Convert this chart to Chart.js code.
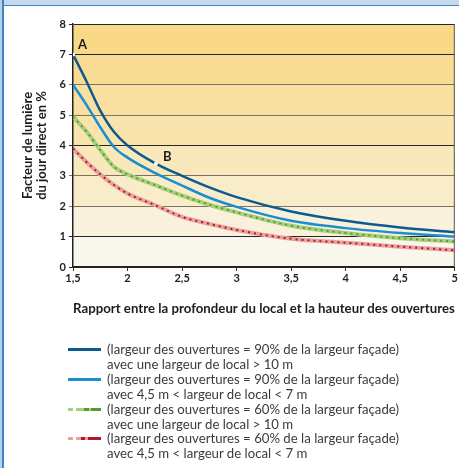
<!DOCTYPE html>
<html lang="fr">
<head>
<meta charset="utf-8">
<script src="https://cdn.jsdelivr.net/npm/chart.js@4.4.1/dist/chart.umd.min.js"></script>
<style>
  html, body { margin: 0; padding: 0; background: #fff; }
  body { width: 459px; height: 468px; position: relative; overflow: hidden; font-family: "Lato", sans-serif; }
  .frame-top { position: absolute; left: 0; top: 0; width: 459px; height: 5px; background: #c3daee; border-bottom: 1px solid #3f85c1; }
  .frame-left { position: absolute; left: 0; top: 0; width: 2px; height: 468px; background: #b5d1ea; border-right: 2px solid #3f85c1; }
  #wrap { position: absolute; left: 0; top: 0; width: 459px; height: 325px; }
  .legend { position: absolute; left: 0; top: 342px; width: 459px; color: #3b3b3b; font-size: 13.2px; line-height: 14.9px; }
  .item { position: relative; padding-left: 107px; white-space: nowrap; }
  .swatch { position: absolute; left: 68px; top: 6px; width: 33px; height: 3px; }
</style>
</head>
<body>
<div id="wrap"><canvas id="myChart" width="459" height="325"></canvas></div>
<div class="frame-top"></div>
<div class="frame-left"></div>
<div class="legend" id="legend"></div>

<script>
// rapport profondeur / hauteur des ouvertures
const xValues = [1.5, 1.625, 1.75, 1.875, 2, 2.25, 2.5, 2.75, 3, 3.5, 4, 4.5, 5];
const xTicks = [1.5, 2, 2.5, 3, 3.5, 4, 4.5, 5];
const xTickLabels = ["1,5", "2", "2,5", "3", "3,5", "4", "4,5", "5"];

// facteur de lumière du jour direct (%)
const dark90 = [7.0, 6.1, 5.15, 4.45, 4.0, 3.42, 3.0, 2.62, 2.3, 1.83, 1.52, 1.3, 1.15];
const light90 = [6.0, 5.33, 4.6, 3.95, 3.6, 3.1, 2.68, 2.28, 1.98, 1.52, 1.28, 1.12, 1.0];
const green60 = [4.95, 4.45, 3.85, 3.3, 3.05, 2.7, 2.35, 2.05, 1.8, 1.36, 1.12, 0.95, 0.84];
const red60 = [3.9, 3.45, 3.05, 2.7, 2.42, 2.04, 1.65, 1.42, 1.22, 0.93, 0.8, 0.67, 0.55];

const markerLabels = ["A", "B"];
const markerX = [1.5, 2.26];
const markerY = [7.0, 3.4];

const legendLabels = [
  ["(largeur des ouvertures = 90% de la largeur façade)", "avec une largeur de local > 10 m"],
  ["(largeur des ouvertures = 90% de la largeur façade)", "avec 4,5 m < largeur de local < 7 m"],
  ["(largeur des ouvertures = 60% de la largeur façade)", "avec une largeur de local > 10 m"],
  ["(largeur des ouvertures = 60% de la largeur façade)", "avec 4,5 m < largeur de local < 7 m"],
];

// styles
const bandColors = ["#f9f6ee", "#f9f1dc", "#f9edc9", "#f9e9ba", "#f9e4ad", "#f9e0a0", "#f9dc94", "#f9d887"];
const darkBlue = "#0d5b8e";
const midBlue = "#1a8ed0";
const greenLight = "#a8cf7c";
const greenDark = "#5a9a33";
const redLight = "#e6a29b";
const redDark = "#b2172c";

const toPoints = (ys) => ys.map((y, i) => ({ x: xValues[i], y }));

const swatches = [
  darkBlue,
  midBlue,
  `linear-gradient(to right, ${greenLight} 0 5px, transparent 5px 8px, ${greenLight} 8px 16px, ${greenDark} 16px 21px, ${greenLight} 21px 23px, ${greenDark} 23px 33px)`,
  `linear-gradient(to right, ${redLight} 0 5px, transparent 5px 8px, ${redLight} 8px 13px, ${redDark} 13px 17px, ${redLight} 17px 20px, ${redDark} 20px 33px)`,
];

const legendEl = document.getElementById("legend");
legendLabels.forEach((lines, i) => {
  const item = document.createElement("div");
  item.className = "item";
  item.innerHTML = `<span class="swatch" style="background:${swatches[i]}"></span>${lines[0]}<br>${lines[1]}`;
  legendEl.appendChild(item);
});

// bandes de fond + bord droit + lettres
const bandsPlugin = {
  id: "bands",
  beforeDraw(chart) {
    const { ctx, chartArea, scales } = chart;
    const y = scales.y;
    ctx.save();
    for (let i = 0; i < 8; i++) {
      const top = y.getPixelForValue(i + 1);
      const bottom = y.getPixelForValue(i);
      ctx.fillStyle = bandColors[i];
      ctx.fillRect(chartArea.left, top, chartArea.right - chartArea.left, bottom - top);
    }
    ctx.restore();
  },
  afterDatasetsDraw(chart) {
    const { ctx, chartArea } = chart;
    ctx.save();
    ctx.strokeStyle = "#5d5850";
    ctx.lineWidth = 1;
    ctx.beginPath();
    ctx.moveTo(chartArea.right - 0.5, chartArea.top);
    ctx.lineTo(chartArea.right - 0.5, chartArea.bottom);
    ctx.stroke();

    const meta = chart.getDatasetMeta(0);
    ctx.fillStyle = "#1c1c1c";
    ctx.font = "bold 13px Lato";
    ctx.textBaseline = "middle";
    meta.data.forEach((pt, i) => {
      const dx = i === 0 ? 5 : 7;
      const dy = i === 0 ? -10 : -7;
      ctx.fillText(markerLabels[i], pt.x + dx, pt.y + dy);
    });
    ctx.restore();
  },
};

const ctx = document.getElementById("myChart");

// chart.js dessine le premier dataset au-dessus
new Chart(ctx, {
  type: "line",
  data: {
    datasets: [
      {
        type: "scatter",
        data: markerX.map((x, i) => ({ x, y: markerY[i] })),
        pointRadius: 2,
        pointBackgroundColor: "#ffffff",
        pointBorderWidth: 0,
      },
      { data: toPoints(dark90), borderColor: darkBlue, borderWidth: 2.5 },
      { data: toPoints(light90), borderColor: midBlue, borderWidth: 2.5 },
      { data: toPoints(green60), borderColor: greenDark, borderWidth: 2, borderDash: [2, 4] },
      { data: toPoints(green60), borderColor: greenLight, borderWidth: 4 },
      { data: toPoints(red60), borderColor: redDark, borderWidth: 2, borderDash: [2, 4] },
      { data: toPoints(red60), borderColor: redLight, borderWidth: 4 },
    ],
  },
  options: {
    responsive: false,
    animation: false,
    events: [],
    layout: { padding: { top: 24, right: 3, left: 0, bottom: 0 } },
    elements: {
      line: { cubicInterpolationMode: "monotone", fill: false },
      point: { radius: 0 },
    },
    plugins: { legend: { display: false }, tooltip: { enabled: false } },
    scales: {
      x: {
        type: "linear",
        min: 1.5,
        max: 5,
        afterBuildTicks: (scale) => {
          scale.ticks = xTicks.map((v) => ({ value: v }));
        },
        afterFit: (scale) => {
          scale.height = 58;
        },
        grid: { drawOnChartArea: false, tickLength: 4, color: "#333", lineWidth: 1 },
        border: { color: "#222", width: 1.5 },
        ticks: {
          padding: 1,
          color: "#222",
          font: { family: "Lato", size: 11, weight: "bold" },
          maxRotation: 0,
          callback: (v) => xTickLabels[xTicks.indexOf(v)] ?? "",
        },
        title: {
          display: true,
          text: "Rapport entre la profondeur du local et la hauteur des ouvertures",
          color: "#1c1c1c",
          font: { family: "Lato", size: 14, weight: "bold" },
          padding: { top: 0, bottom: 8 },
        },
      },
      y: {
        min: 0,
        max: 8,
        afterFit: (scale) => {
          scale.width = 73;
        },
        ticks: {
          stepSize: 1,
          padding: 3,
          color: "#222",
          font: { family: "Lato", size: 11, weight: "bold" },
        },
        grid: {
          tickLength: 4,
          lineWidth: 1,
          color: (c) => ([0, 1, 4, 7, 8].includes(c.tick.value) ? "#262626" : "#7a7262"),
        },
        border: { color: "#222", width: 1.5 },
        title: {
          display: true,
          text: ["Facteur de lumière", "du jour direct en %"],
          color: "#1c1c1c",
          font: { family: "Lato", size: 13, weight: "bold", lineHeight: 1.08 },
          padding: { top: 21, bottom: 0 },
        },
      },
    },
  },
  plugins: [bandsPlugin],
});
</script>
</body>
</html>
